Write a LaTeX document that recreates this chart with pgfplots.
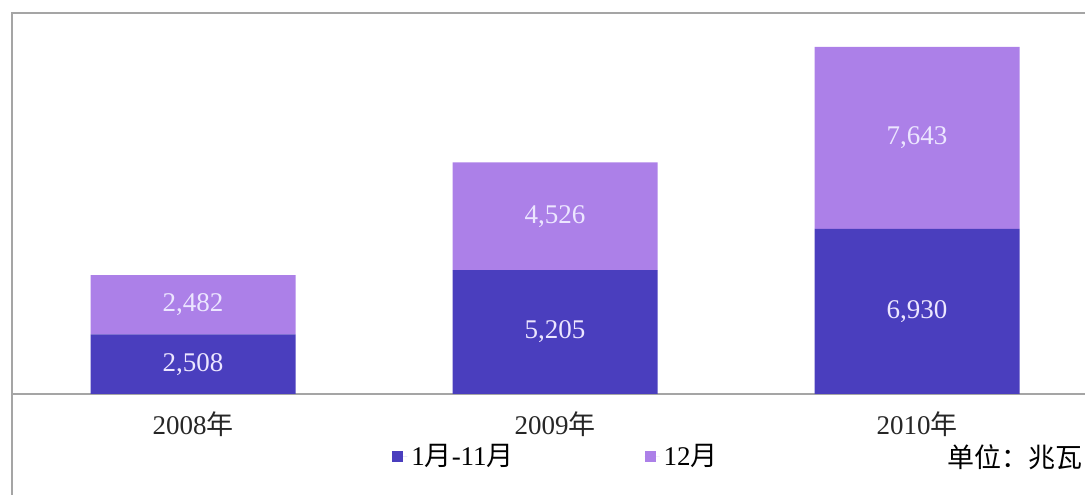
\documentclass[border=0pt]{standalone}
\usepackage{fontspec}
\setmainfont{Liberation Serif}
\newfontfamily\cjk{Noto Sans CJK SC}
\usepackage{pgfplots}
\pgfplotsset{compat=1.18}
\definecolor{cdark}{RGB}{74,62,190}
\definecolor{clight}{RGB}{172,128,232}
\definecolor{cframe}{RGB}{165,165,165}
\definecolor{clabel}{RGB}{236,230,255}
\pgfplotsset{sqlegend/.style={legend image code/.code={\fill[##1] (0pt,-2.75pt) rectangle (5.5pt,2.75pt); \path (0pt,0pt) -- (7.5pt,0pt);}}}
\begin{document}
\begin{tikzpicture}
\begin{axis}[
  at={(0,0)}, anchor=south west,
  scale only axis, width=536.5pt, height=190.5pt,
  xmin=-0.5, xmax=2.464, ymin=0, ymax=16000,
  ybar stacked, bar width=102.5pt,
  axis x line*=bottom, axis y line=none,
  x axis line style={draw=cframe, line width=0.7pt},
  xtick={0,1,2},
  xticklabels={2008{\cjk 年},2009{\cjk 年},2010{\cjk 年}},
  major tick length=0pt,
  xticklabel style={anchor=base, yshift=-20.5pt, font=\fontsize{13.5}{16}\selectfont, text=black!85},
  ytick=\empty,
  clip=false,
  nodes near coords,
  point meta=explicit symbolic,
  every node near coord/.append style={anchor=center, font=\fontsize{13.5}{16}\selectfont, text=clabel},
  legend columns=2,
  legend style={draw=none, fill=none, at={(0.354,-0.165)}, anchor=west, inner sep=0pt,
    font=\fontsize{13.5}{16}\selectfont,
    /tikz/every even column/.append style={column sep=63.5pt}},
]
\addplot[fill=cdark, draw=none, sqlegend]
  coordinates {(0,2508) [{2,508}] (1,5205) [{5,205}] (2,6930) [{6,930}]};
\addplot[fill=clight, draw=none, sqlegend]
  coordinates {(0,2482) [{2,482}] (1,4526) [{4,526}] (2,7643) [{7,643}]};
\legend{1{\cjk 月}-11{\cjk 月}, 12{\cjk 月}}
\draw[cframe, line width=0.9pt] (rel axis cs:0,-0.27) -- (rel axis cs:0,1) -- (rel axis cs:1.01,1);
\node[anchor=west, font=\fontsize{13.5}{16}\selectfont, inner sep=0pt] at (rel axis cs:0.8714,-0.165) {{\cjk 单位：兆瓦}};
\end{axis}
\pgfresetboundingbox
\useasboundingbox ([shift={(-6pt,-50.5pt)}]current axis.south west) rectangle ([shift={(0pt,6.5pt)}]current axis.north east);
\end{tikzpicture}
\end{document}
